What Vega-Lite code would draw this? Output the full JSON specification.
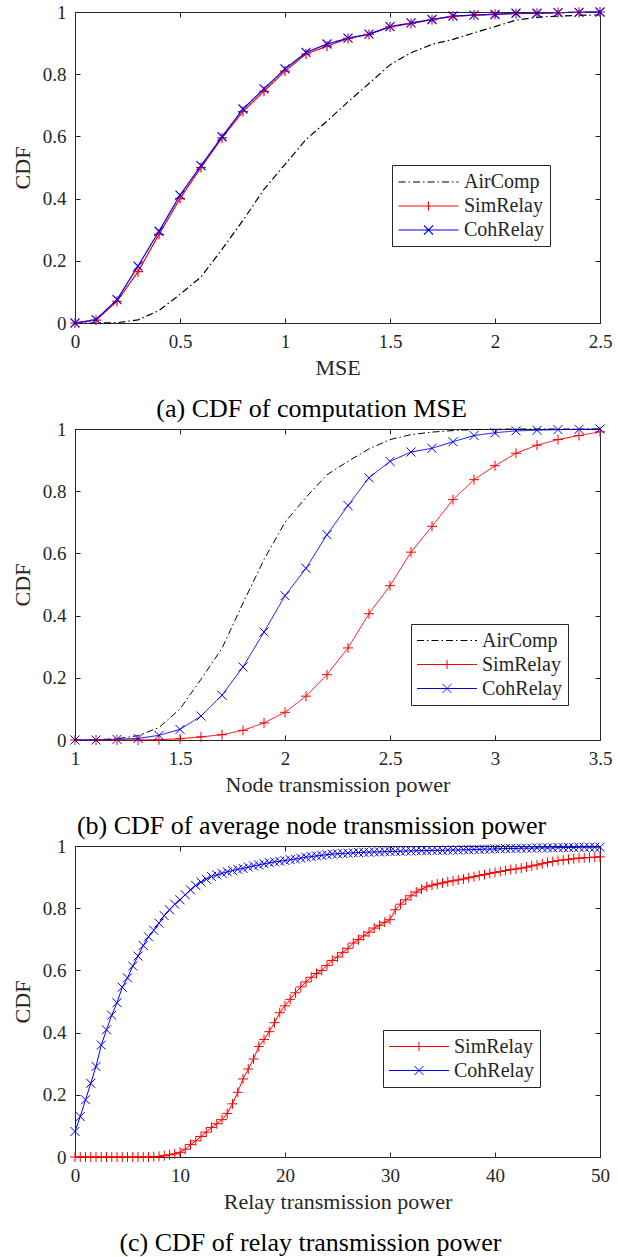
{
  "$schema": "https://vega.github.io/schema/vega-lite/v6.json",
  "background": "white",
  "padding": {"left": 10, "top": 2, "right": 5, "bottom": 5},
  "bounds": "flush",
  "spacing": 106,
  "resolve": {"scale": {"color": "independent", "strokeDash": "independent"}, "legend": {"color": "independent", "strokeDash": "independent"}},
  "config": {
    "font": "Liberation Serif",
    "view": {"stroke": "#262626", "strokeWidth": 1},
    "axis": {
      "labelFont": "Liberation Serif", "labelFontSize": 19, "labelColor": "#262626",
      "titleFont": "Liberation Serif", "titleFontSize": 22, "titleFontWeight": "normal", "titleColor": "#262626",
      "domainColor": "#262626", "tickColor": "#262626", "tickSize": -5, "grid": false, "labelFlush": false, "labelOverlap": false
    },
    "legend": {
      "labelFont": "Liberation Serif", "labelFontSize": 20, "labelColor": "#262626",
      "orient": "none", "strokeColor": "#262626", "fillColor": "white", "padding": 6,
      "symbolSize": 400, "symbolStrokeWidth": 1, "symbolOffset": 19.5, "labelOffset": 24.5, "rowPadding": 3, "labelLimit": 300
    },
    "title": {"font": "Liberation Serif", "fontSize": 26, "fontWeight": "normal", "color": "black", "orient": "bottom", "anchor": "middle", "frame": "bounds", "offset": 18}
  },
  "vconcat": [
    {
      "width": 525, "height": 311,
      "title": {"text": "(a) CDF of computation MSE"},
      "data": {"values": [
        {"x": 0, "AirComp": 0, "SimRelay": 0, "CohRelay": 0},
        {"x": 0.1, "AirComp": 0, "SimRelay": 0.009, "CohRelay": 0.011},
        {"x": 0.2, "AirComp": 0.001, "SimRelay": 0.07, "CohRelay": 0.075},
        {"x": 0.3, "AirComp": 0.01, "SimRelay": 0.165, "CohRelay": 0.183},
        {"x": 0.4, "AirComp": 0.04, "SimRelay": 0.285, "CohRelay": 0.295},
        {"x": 0.5, "AirComp": 0.092, "SimRelay": 0.4, "CohRelay": 0.411},
        {"x": 0.6, "AirComp": 0.148, "SimRelay": 0.5, "CohRelay": 0.506},
        {"x": 0.7, "AirComp": 0.237, "SimRelay": 0.595, "CohRelay": 0.599},
        {"x": 0.8, "AirComp": 0.33, "SimRelay": 0.68, "CohRelay": 0.688},
        {"x": 0.9, "AirComp": 0.43, "SimRelay": 0.745, "CohRelay": 0.753},
        {"x": 1.0, "AirComp": 0.51, "SimRelay": 0.81, "CohRelay": 0.817},
        {"x": 1.1, "AirComp": 0.59, "SimRelay": 0.865, "CohRelay": 0.87},
        {"x": 1.2, "AirComp": 0.649, "SimRelay": 0.89, "CohRelay": 0.897},
        {"x": 1.3, "AirComp": 0.711, "SimRelay": 0.915, "CohRelay": 0.916},
        {"x": 1.4, "AirComp": 0.77, "SimRelay": 0.928, "CohRelay": 0.929},
        {"x": 1.5, "AirComp": 0.83, "SimRelay": 0.952, "CohRelay": 0.953},
        {"x": 1.6, "AirComp": 0.869, "SimRelay": 0.963, "CohRelay": 0.965},
        {"x": 1.7, "AirComp": 0.896, "SimRelay": 0.975, "CohRelay": 0.976},
        {"x": 1.8, "AirComp": 0.912, "SimRelay": 0.986, "CohRelay": 0.987},
        {"x": 1.9, "AirComp": 0.933, "SimRelay": 0.99, "CohRelay": 0.99},
        {"x": 2.0, "AirComp": 0.953, "SimRelay": 0.993, "CohRelay": 0.992},
        {"x": 2.1, "AirComp": 0.974, "SimRelay": 0.995, "CohRelay": 0.996},
        {"x": 2.2, "AirComp": 0.983, "SimRelay": 0.996, "CohRelay": 0.996},
        {"x": 2.3, "AirComp": 0.987, "SimRelay": 0.998, "CohRelay": 0.998},
        {"x": 2.4, "AirComp": 0.989, "SimRelay": 0.999, "CohRelay": 0.999},
        {"x": 2.5, "AirComp": 0.991, "SimRelay": 1.0, "CohRelay": 1.0}
      ]},
      "transform": [{"fold": ["AirComp", "SimRelay", "CohRelay"], "as": ["series", "cdf"]}],
      "layer": [
        {
          "mark": {"type": "line", "strokeWidth": 1.2},
          "encoding": {
            "x": {"field": "x", "type": "quantitative", "scale": {"domain": [0, 2.5], "nice": false}, "axis": {"values": [0, 0.5, 1, 1.5, 2, 2.5], "format": "~r", "title": "MSE", "labelPadding": 14, "titlePadding": 6}},
            "y": {"field": "cdf", "type": "quantitative", "scale": {"domain": [0, 1], "nice": false}, "axis": {"values": [0, 0.2, 0.4, 0.6, 0.8, 1], "format": "~r", "title": "CDF", "labelPadding": 14, "titlePadding": 8}},
            "color": {"field": "series", "type": "nominal", "scale": {"domain": ["AirComp", "SimRelay", "CohRelay"], "range": ["#000000", "#ff0000", "#0000ff"]},
              "legend": {"title": null, "legendX": 317, "legendY": 153,
                "encode": {"symbols": {"update": {
                  "shape": {"signal": "datum.value === 'SimRelay' ? 'M-3,0H3M0,-0.45V0.45' : datum.value === 'CohRelay' ? 'M-3,0H3M-0.45,-0.45L0.45,0.45M-0.45,0.45L0.45,-0.45' : 'M-3,0H3'"},
                  "stroke": {"signal": "datum.value === 'SimRelay' ? '#ff0000' : datum.value === 'CohRelay' ? '#0000ff' : '#000000'"},
                  "strokeDash": {"signal": "datum.value === 'AirComp' ? [7, 3, 1.5, 3] : [1, 0]"},
                  "strokeWidth": {"value": 1.2},
                  "fill": {"value": "transparent"},
                  "opacity": {"value": 1}}}}}},
            "strokeDash": {"field": "series", "type": "nominal", "scale": {"domain": ["AirComp", "SimRelay", "CohRelay"], "range": [[7, 3, 1.5, 3], [1, 0], [1, 0]]}, "legend": null}
          }
        },
        {
          "transform": [{"filter": "datum.series === 'SimRelay'"}],
          "mark": {"type": "point", "filled": false, "strokeWidth": 1.2, "opacity": 1, "size": 100, "shape": "M-1,0H1M0,-1V1", "color": "#ff0000"},
          "encoding": {
            "x": {"field": "x", "type": "quantitative", "axis": {"orient": "top", "labels": false, "title": null, "values": [0, 0.5, 1, 1.5, 2, 2.5]}},
            "y": {"field": "cdf", "type": "quantitative", "axis": {"orient": "right", "labels": false, "title": null, "values": [0, 0.2, 0.4, 0.6, 0.8, 1]}}
          }
        },
        {
          "transform": [{"filter": "datum.series === 'CohRelay'"}],
          "mark": {"type": "point", "filled": false, "strokeWidth": 1.2, "opacity": 1, "size": 81, "shape": "M-1,-1L1,1M-1,1L1,-1", "color": "#0000ff"},
          "encoding": {
            "x": {"field": "x", "type": "quantitative", "axis": null},
            "y": {"field": "cdf", "type": "quantitative", "axis": null}
          }
        }
      ],
      "resolve": {"axis": {"x": "independent", "y": "independent"}}
    },
    {
      "width": 525, "height": 311,
      "title": {"text": "(b) CDF of average node transmission power"},
      "data": {"values": [
        {"x": 1.0, "AirComp": 0, "SimRelay": 0, "CohRelay": 0},
        {"x": 1.1, "AirComp": 0.001, "SimRelay": 0, "CohRelay": 0},
        {"x": 1.2, "AirComp": 0.004, "SimRelay": 0, "CohRelay": 0.002},
        {"x": 1.3, "AirComp": 0.014, "SimRelay": 0, "CohRelay": 0.005},
        {"x": 1.4, "AirComp": 0.04, "SimRelay": 0.001, "CohRelay": 0.015},
        {"x": 1.5, "AirComp": 0.1, "SimRelay": 0.004, "CohRelay": 0.034},
        {"x": 1.6, "AirComp": 0.195, "SimRelay": 0.01, "CohRelay": 0.077},
        {"x": 1.7, "AirComp": 0.295, "SimRelay": 0.017, "CohRelay": 0.144},
        {"x": 1.8, "AirComp": 0.44, "SimRelay": 0.031, "CohRelay": 0.235},
        {"x": 1.9, "AirComp": 0.58, "SimRelay": 0.055, "CohRelay": 0.347},
        {"x": 2.0, "AirComp": 0.7, "SimRelay": 0.089, "CohRelay": 0.464},
        {"x": 2.1, "AirComp": 0.78, "SimRelay": 0.141, "CohRelay": 0.552},
        {"x": 2.2, "AirComp": 0.853, "SimRelay": 0.21, "CohRelay": 0.66},
        {"x": 2.3, "AirComp": 0.896, "SimRelay": 0.296, "CohRelay": 0.754},
        {"x": 2.4, "AirComp": 0.936, "SimRelay": 0.406, "CohRelay": 0.843},
        {"x": 2.5, "AirComp": 0.966, "SimRelay": 0.496, "CohRelay": 0.896},
        {"x": 2.6, "AirComp": 0.982, "SimRelay": 0.604, "CohRelay": 0.926},
        {"x": 2.7, "AirComp": 0.99, "SimRelay": 0.687, "CohRelay": 0.938},
        {"x": 2.8, "AirComp": 0.995, "SimRelay": 0.773, "CohRelay": 0.959},
        {"x": 2.9, "AirComp": 0.998, "SimRelay": 0.837, "CohRelay": 0.979},
        {"x": 3.0, "AirComp": 0.999, "SimRelay": 0.882, "CohRelay": 0.988},
        {"x": 3.1, "AirComp": 1.0, "SimRelay": 0.922, "CohRelay": 0.994},
        {"x": 3.2, "AirComp": 1.0, "SimRelay": 0.948, "CohRelay": 0.996},
        {"x": 3.3, "AirComp": 1.0, "SimRelay": 0.966, "CohRelay": 0.998},
        {"x": 3.4, "AirComp": 1.0, "SimRelay": 0.979, "CohRelay": 0.999},
        {"x": 3.5, "AirComp": 1.0, "SimRelay": 0.991, "CohRelay": 1.0}
      ]},
      "transform": [{"fold": ["AirComp", "SimRelay", "CohRelay"], "as": ["series", "cdf"]}],
      "layer": [
        {
          "mark": {"type": "line", "strokeWidth": 1},
          "encoding": {
            "x": {"field": "x", "type": "quantitative", "scale": {"domain": [1, 3.5], "nice": false}, "axis": {"values": [1, 1.5, 2, 2.5, 3, 3.5], "format": "~r", "title": "Node transmission power", "labelPadding": 14, "titlePadding": 6}},
            "y": {"field": "cdf", "type": "quantitative", "scale": {"domain": [0, 1], "nice": false}, "axis": {"values": [0, 0.2, 0.4, 0.6, 0.8, 1], "format": "~r", "title": "CDF", "labelPadding": 14, "titlePadding": 8}},
            "color": {"field": "series", "type": "nominal", "scale": {"domain": ["AirComp", "SimRelay", "CohRelay"], "range": ["#000000", "#ff0000", "#0000ff"]},
              "legend": {"title": null, "legendX": 336, "legendY": 195,
                "encode": {"symbols": {"update": {
                  "shape": {"signal": "datum.value === 'SimRelay' ? 'M-3,0H3M0,-0.45V0.45' : datum.value === 'CohRelay' ? 'M-3,0H3M-0.45,-0.45L0.45,0.45M-0.45,0.45L0.45,-0.45' : 'M-3,0H3'"},
                  "stroke": {"signal": "datum.value === 'SimRelay' ? '#ff0000' : datum.value === 'CohRelay' ? '#0000ff' : '#000000'"},
                  "strokeDash": {"signal": "datum.value === 'AirComp' ? [7, 3, 1.5, 3] : [1, 0]"},
                  "strokeWidth": {"value": 1},
                  "fill": {"value": "transparent"},
                  "opacity": {"value": 1}}}}}},
            "strokeDash": {"field": "series", "type": "nominal", "scale": {"domain": ["AirComp", "SimRelay", "CohRelay"], "range": [[7, 3, 1.5, 3], [1, 0], [1, 0]]}, "legend": null}
          }
        },
        {
          "transform": [{"filter": "datum.series === 'SimRelay'"}],
          "mark": {"type": "point", "filled": false, "strokeWidth": 1, "opacity": 1, "size": 100, "shape": "M-1,0H1M0,-1V1", "color": "#ff0000"},
          "encoding": {
            "x": {"field": "x", "type": "quantitative", "axis": {"orient": "top", "labels": false, "title": null, "values": [1, 1.5, 2, 2.5, 3, 3.5]}},
            "y": {"field": "cdf", "type": "quantitative", "axis": {"orient": "right", "labels": false, "title": null, "values": [0, 0.2, 0.4, 0.6, 0.8, 1]}}
          }
        },
        {
          "transform": [{"filter": "datum.series === 'CohRelay'"}],
          "mark": {"type": "point", "filled": false, "strokeWidth": 1, "opacity": 1, "size": 81, "shape": "M-1,-1L1,1M-1,1L1,-1", "color": "#0000ff"},
          "encoding": {
            "x": {"field": "x", "type": "quantitative", "axis": null},
            "y": {"field": "cdf", "type": "quantitative", "axis": null}
          }
        }
      ],
      "resolve": {"axis": {"x": "independent", "y": "independent"}}
    },
    {
      "width": 525, "height": 311,
      "title": {"text": "(c) CDF of relay transmission power"},
      "data": {"values": [
        {"x": 0, "SimRelay": 0, "CohRelay": 0.082}, {"x": 0.5, "SimRelay": 0, "CohRelay": 0.13},
        {"x": 1, "SimRelay": 0, "CohRelay": 0.184}, {"x": 1.5, "SimRelay": 0, "CohRelay": 0.237},
        {"x": 2, "SimRelay": 0, "CohRelay": 0.291}, {"x": 2.5, "SimRelay": 0, "CohRelay": 0.36},
        {"x": 3, "SimRelay": 0, "CohRelay": 0.409}, {"x": 3.5, "SimRelay": 0, "CohRelay": 0.456},
        {"x": 4, "SimRelay": 0, "CohRelay": 0.496}, {"x": 4.5, "SimRelay": 0, "CohRelay": 0.546},
        {"x": 5, "SimRelay": 0, "CohRelay": 0.576}, {"x": 5.5, "SimRelay": 0, "CohRelay": 0.614},
        {"x": 6, "SimRelay": 0, "CohRelay": 0.646}, {"x": 6.5, "SimRelay": 0, "CohRelay": 0.68},
        {"x": 7, "SimRelay": 0, "CohRelay": 0.708}, {"x": 7.5, "SimRelay": 0.001, "CohRelay": 0.729},
        {"x": 8, "SimRelay": 0.002, "CohRelay": 0.752}, {"x": 8.5, "SimRelay": 0.004, "CohRelay": 0.776},
        {"x": 9, "SimRelay": 0.007, "CohRelay": 0.795}, {"x": 9.5, "SimRelay": 0.01, "CohRelay": 0.813},
        {"x": 10, "SimRelay": 0.015, "CohRelay": 0.827}, {"x": 10.5, "SimRelay": 0.025, "CohRelay": 0.843},
        {"x": 11, "SimRelay": 0.04, "CohRelay": 0.859}, {"x": 11.5, "SimRelay": 0.052, "CohRelay": 0.873},
        {"x": 12, "SimRelay": 0.066, "CohRelay": 0.884}, {"x": 12.5, "SimRelay": 0.08, "CohRelay": 0.893},
        {"x": 13, "SimRelay": 0.095, "CohRelay": 0.902}, {"x": 13.5, "SimRelay": 0.107, "CohRelay": 0.907},
        {"x": 14, "SimRelay": 0.12, "CohRelay": 0.912}, {"x": 14.5, "SimRelay": 0.14, "CohRelay": 0.917},
        {"x": 15, "SimRelay": 0.171, "CohRelay": 0.921}, {"x": 15.5, "SimRelay": 0.208, "CohRelay": 0.925},
        {"x": 16, "SimRelay": 0.251, "CohRelay": 0.928}, {"x": 16.5, "SimRelay": 0.283, "CohRelay": 0.932},
        {"x": 17, "SimRelay": 0.315, "CohRelay": 0.936}, {"x": 17.5, "SimRelay": 0.355, "CohRelay": 0.939},
        {"x": 18, "SimRelay": 0.378, "CohRelay": 0.943}, {"x": 18.5, "SimRelay": 0.403, "CohRelay": 0.946},
        {"x": 19, "SimRelay": 0.432, "CohRelay": 0.949}, {"x": 19.5, "SimRelay": 0.464, "CohRelay": 0.951},
        {"x": 20, "SimRelay": 0.486, "CohRelay": 0.953}, {"x": 20.5, "SimRelay": 0.507, "CohRelay": 0.956},
        {"x": 21, "SimRelay": 0.528, "CohRelay": 0.958}, {"x": 21.5, "SimRelay": 0.547, "CohRelay": 0.961},
        {"x": 22, "SimRelay": 0.563, "CohRelay": 0.964}, {"x": 22.5, "SimRelay": 0.578, "CohRelay": 0.966},
        {"x": 23, "SimRelay": 0.59, "CohRelay": 0.968}, {"x": 23.5, "SimRelay": 0.6, "CohRelay": 0.97},
        {"x": 24, "SimRelay": 0.616, "CohRelay": 0.972}, {"x": 24.5, "SimRelay": 0.632, "CohRelay": 0.974},
        {"x": 25, "SimRelay": 0.643, "CohRelay": 0.975}, {"x": 25.5, "SimRelay": 0.658, "CohRelay": 0.976},
        {"x": 26, "SimRelay": 0.671, "CohRelay": 0.977}, {"x": 26.5, "SimRelay": 0.688, "CohRelay": 0.978},
        {"x": 27, "SimRelay": 0.699, "CohRelay": 0.979}, {"x": 27.5, "SimRelay": 0.711, "CohRelay": 0.98},
        {"x": 28, "SimRelay": 0.723, "CohRelay": 0.98}, {"x": 28.5, "SimRelay": 0.736, "CohRelay": 0.981},
        {"x": 29, "SimRelay": 0.745, "CohRelay": 0.981}, {"x": 29.5, "SimRelay": 0.755, "CohRelay": 0.982},
        {"x": 30, "SimRelay": 0.763, "CohRelay": 0.982}, {"x": 30.5, "SimRelay": 0.795, "CohRelay": 0.983},
        {"x": 31, "SimRelay": 0.813, "CohRelay": 0.983}, {"x": 31.5, "SimRelay": 0.827, "CohRelay": 0.984},
        {"x": 32, "SimRelay": 0.84, "CohRelay": 0.984}, {"x": 32.5, "SimRelay": 0.852, "CohRelay": 0.985},
        {"x": 33, "SimRelay": 0.861, "CohRelay": 0.985}, {"x": 33.5, "SimRelay": 0.869, "CohRelay": 0.985},
        {"x": 34, "SimRelay": 0.874, "CohRelay": 0.986}, {"x": 34.5, "SimRelay": 0.878, "CohRelay": 0.986},
        {"x": 35, "SimRelay": 0.881, "CohRelay": 0.986}, {"x": 35.5, "SimRelay": 0.885, "CohRelay": 0.987},
        {"x": 36, "SimRelay": 0.888, "CohRelay": 0.987}, {"x": 36.5, "SimRelay": 0.891, "CohRelay": 0.987},
        {"x": 37, "SimRelay": 0.894, "CohRelay": 0.988}, {"x": 37.5, "SimRelay": 0.898, "CohRelay": 0.988},
        {"x": 38, "SimRelay": 0.901, "CohRelay": 0.989}, {"x": 38.5, "SimRelay": 0.905, "CohRelay": 0.989},
        {"x": 39, "SimRelay": 0.908, "CohRelay": 0.99}, {"x": 39.5, "SimRelay": 0.912, "CohRelay": 0.99},
        {"x": 40, "SimRelay": 0.915, "CohRelay": 0.991}, {"x": 40.5, "SimRelay": 0.918, "CohRelay": 0.991},
        {"x": 41, "SimRelay": 0.921, "CohRelay": 0.992}, {"x": 41.5, "SimRelay": 0.924, "CohRelay": 0.992},
        {"x": 42, "SimRelay": 0.926, "CohRelay": 0.992}, {"x": 42.5, "SimRelay": 0.929, "CohRelay": 0.993},
        {"x": 43, "SimRelay": 0.932, "CohRelay": 0.993}, {"x": 43.5, "SimRelay": 0.936, "CohRelay": 0.993},
        {"x": 44, "SimRelay": 0.939, "CohRelay": 0.994}, {"x": 44.5, "SimRelay": 0.943, "CohRelay": 0.994},
        {"x": 45, "SimRelay": 0.947, "CohRelay": 0.994}, {"x": 45.5, "SimRelay": 0.95, "CohRelay": 0.994},
        {"x": 46, "SimRelay": 0.953, "CohRelay": 0.995}, {"x": 46.5, "SimRelay": 0.955, "CohRelay": 0.995},
        {"x": 47, "SimRelay": 0.957, "CohRelay": 0.995}, {"x": 47.5, "SimRelay": 0.959, "CohRelay": 0.995},
        {"x": 48, "SimRelay": 0.961, "CohRelay": 0.996}, {"x": 48.5, "SimRelay": 0.962, "CohRelay": 0.996},
        {"x": 49, "SimRelay": 0.963, "CohRelay": 0.996}, {"x": 49.5, "SimRelay": 0.964, "CohRelay": 0.996},
        {"x": 50, "SimRelay": 0.965, "CohRelay": 0.996}
      ]},
      "transform": [{"fold": ["SimRelay", "CohRelay"], "as": ["series", "cdf"]}],
      "layer": [
        {
          "mark": {"type": "line", "strokeWidth": 1},
          "encoding": {
            "x": {"field": "x", "type": "quantitative", "scale": {"domain": [0, 50], "nice": false}, "axis": {"values": [0, 10, 20, 30, 40, 50], "format": "~r", "title": "Relay transmission power", "labelPadding": 14, "titlePadding": 6}},
            "y": {"field": "cdf", "type": "quantitative", "scale": {"domain": [0, 1], "nice": false}, "axis": {"values": [0, 0.2, 0.4, 0.6, 0.8, 1], "format": "~r", "title": "CDF", "labelPadding": 14, "titlePadding": 8}},
            "color": {"field": "series", "type": "nominal", "scale": {"domain": ["SimRelay", "CohRelay"], "range": ["#ff0000", "#0000ff"]},
              "legend": {"title": null, "legendX": 308, "legendY": 184,
                "encode": {"symbols": {"update": {
                  "shape": {"signal": "datum.value === 'SimRelay' ? 'M-3,0H3M0,-0.45V0.45' : 'M-3,0H3M-0.45,-0.45L0.45,0.45M-0.45,0.45L0.45,-0.45'"},
                  "stroke": {"signal": "datum.value === 'SimRelay' ? '#ff0000' : '#0000ff'"},
                  "strokeWidth": {"value": 1},
                  "fill": {"value": "transparent"},
                  "opacity": {"value": 1}}}}}}
          }
        },
        {
          "transform": [{"filter": "datum.series === 'SimRelay'"}],
          "mark": {"type": "point", "filled": false, "strokeWidth": 1, "opacity": 1, "size": 100, "shape": "M-1,0H1M0,-1V1", "color": "#ff0000"},
          "encoding": {
            "x": {"field": "x", "type": "quantitative", "axis": {"orient": "top", "labels": false, "title": null, "values": [0, 10, 20, 30, 40, 50]}},
            "y": {"field": "cdf", "type": "quantitative", "axis": {"orient": "right", "labels": false, "title": null, "values": [0, 0.2, 0.4, 0.6, 0.8, 1]}}
          }
        },
        {
          "transform": [{"filter": "datum.series === 'CohRelay'"}],
          "mark": {"type": "point", "filled": false, "strokeWidth": 1, "opacity": 1, "size": 81, "shape": "M-1,-1L1,1M-1,1L1,-1", "color": "#0000ff"},
          "encoding": {
            "x": {"field": "x", "type": "quantitative", "axis": null},
            "y": {"field": "cdf", "type": "quantitative", "axis": null}
          }
        }
      ],
      "resolve": {"axis": {"x": "independent", "y": "independent"}}
    }
  ]
}
